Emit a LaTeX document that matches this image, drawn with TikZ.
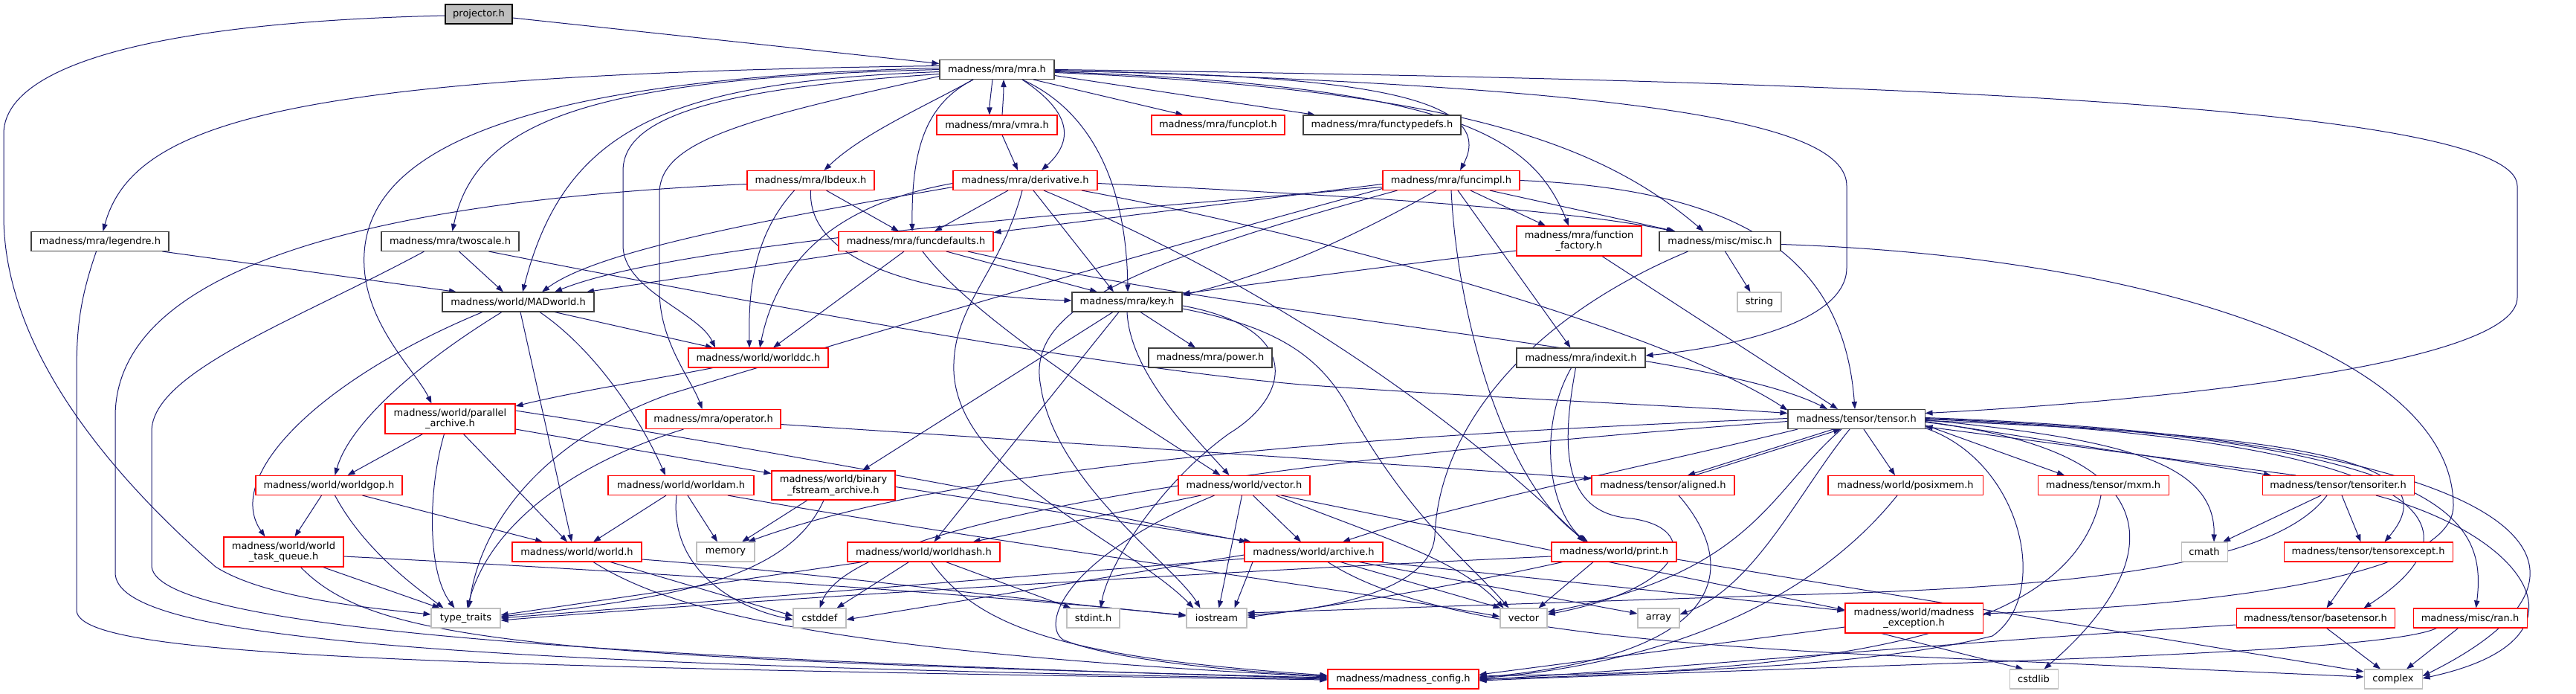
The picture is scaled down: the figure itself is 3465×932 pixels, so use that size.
\documentclass[tikz,border=0pt]{standalone}
\usepackage{fontspec}
\setmainfont{DejaVu Sans}
\usetikzlibrary{arrows.meta,calc}
\pgfdeclarelayer{bg}
\pgfsetlayers{bg,main}
\definecolor{edgec}{HTML}{191970}
\definecolor{redb}{HTML}{FF0000}
\definecolor{grayb}{HTML}{BFBFBF}
\definecolor{blackb}{HTML}{404040}
\tikzset{
  bw/.code={\pgfmathsetlengthmacro\tmpbw{#1*0.75pt}\tikzset{minimum width=\tmpbw}},
  bh/.code={\pgfmathsetlengthmacro\tmpbh{#1*0.75pt}\tikzset{minimum height=\tmpbh}},
  box/.style={line width=0.8pt, fill=white, inner sep=0pt, align=center,
    font=\fontsize{9.75}{10.75}\selectfont, bh=26},
  blk/.style={box, draw=blackb},
  rbox/.style={box, draw=redb},
  gbox/.style={box, draw=grayb},
  pbox/.style={box, draw=black, fill=grayb},
  e/.style={draw=edgec, line width=0.75pt, -{Triangle[length=7.5pt,width=5.4pt]}},
}
\begin{document}
\begin{tikzpicture}[x=0.75pt,y=-0.75pt]
\useasboundingbox (0,0) rectangle (3465,932);
\begin{pgfonlayer}{bg}
\fill[white] (0,0) rectangle (3465,932);
\end{pgfonlayer}
% ---------------- nodes ----------------
\node[pbox,bw=90] (projector) at (644,19) {projector.h};
\node[blk,bw=154] (mra) at (1341,93.5) {madness/mra/mra.h};
\node[rbox,bw=162] (vmra) at (1341,168) {madness/mra/vmra.h};
\node[rbox,bw=179] (funcplot) at (1638.5,168) {madness/mra/funcplot.h};
\node[blk,bw=212] (functypedefs) at (1859,168) {madness/mra/functypedefs.h};
\node[rbox,bw=171] (lbdeux) at (1090.5,242.5) {madness/mra/lbdeux.h};
\node[rbox,bw=194] (derivative) at (1379,242.5) {madness/mra/derivative.h};
\node[rbox,bw=184] (funcimpl) at (1952,242.5) {madness/mra/funcimpl.h};
\node[blk,bw=185] (legendre) at (134.5,324.5) {madness/mra/legendre.h};
\node[blk,bw=185] (twoscale) at (605.5,324.5) {madness/mra/twoscale.h};
\node[rbox,bw=208] (funcdefaults) at (1232,324.5) {madness/mra/funcdefaults.h};
\node[rbox,bw=168,bh=40] (ffactory) at (2124,324) {madness/mra/function\\\_factory.h};
\node[blk,bw=163] (misc) at (2313.5,324.5) {madness/misc/misc.h};
\node[blk,bw=204] (madworld) at (697,406) {madness/world/MADworld.h};
\node[blk,bw=148] (key) at (1516,406) {madness/mra/key.h};
\node[gbox,bw=59] (string) at (2366.5,406) {string};
\node[rbox,bw=188] (worlddc) at (1020,481) {madness/world/worlddc.h};
\node[blk,bw=166] (power) at (1628,481) {madness/mra/power.h};
\node[blk,bw=173] (indexit) at (2126.5,481) {madness/mra/indexit.h};
\node[rbox,bw=175,bh=40] (parchive) at (605.5,563) {madness/world/parallel\\\_archive.h};
\node[rbox,bw=181] (operator) at (959.5,563.5) {madness/mra/operator.h};
\node[blk,bw=184] (tensor) at (2497,563.5) {madness/tensor/tensor.h};
\node[rbox,bw=197] (worldgop) at (442.5,652.5) {madness/world/worldgop.h};
\node[rbox,bw=196] (worldam) at (916,652.5) {madness/world/worldam.h};
\node[rbox,bw=166,bh=39] (binfs) at (1121,652.5) {madness/world/binary\\\_fstream\_archive.h};
\node[rbox,bw=177] (wvector) at (1673.5,652.5) {madness/world/vector.h};
\node[rbox,bw=192] (aligned) at (2237,652.5) {madness/tensor/aligned.h};
\node[rbox,bw=208] (posixmem) at (2563,652.5) {madness/world/posixmem.h};
\node[rbox,bw=176] (mxm) at (2829,652.5) {madness/tensor/mxm.h};
\node[rbox,bw=204] (tensoriter) at (3145,652.5) {madness/tensor/tensoriter.h};
\node[rbox,bw=161,bh=40] (wtq) at (381.5,742) {madness/world/world\\\_task\_queue.h};
\node[rbox,bw=174] (world) at (776,742) {madness/world/world.h};
\node[gbox,bw=78] (memory) at (976,742) {memory};
\node[rbox,bw=205] (worldhash) at (1242.5,742) {madness/world/worldhash.h};
\node[rbox,bw=186] (archive) at (1767,742) {madness/world/archive.h};
\node[rbox,bw=168] (print) at (2171,742) {madness/world/print.h};
\node[gbox,bw=62] (cmath) at (2965,742) {cmath};
\node[rbox,bw=227] (tensorexcept) at (3185.5,742) {madness/tensor/tensorexcept.h};
\node[gbox,bw=93] (typetraits) at (626.5,831) {type\_traits};
\node[gbox,bw=71] (cstddef) at (1102.5,831) {cstddef};
\node[gbox,bw=71] (stdint) at (1470.5,831) {stdint.h};
\node[gbox,bw=81] (iostream) at (1636.5,831) {iostream};
\node[gbox,bw=63] (vector) at (2049.5,831) {vector};
\node[gbox,bw=56] (array) at (2231,831) {array};
\node[rbox,bw=185,bh=40] (mexception) at (2574.5,831) {madness/world/madness\\\_exception.h};
\node[rbox,bw=213] (basetensor) at (3114.5,831) {madness/tensor/basetensor.h};
\node[rbox,bw=153] (ran) at (3322.5,831) {madness/misc/ran.h};
\node[rbox,bw=203] (mconfig) at (1887.5,913) {madness/madness\_config.h};
\node[gbox,bw=65] (cstdlib) at (2735.5,913) {cstdlib};
\node[gbox,bw=78] (complex) at (3219,913) {complex};
% ---------------- edges ----------------
\begin{pgfonlayer}{bg}
% projector
\draw[e] ($(projector.east)+(0,5)$) -- ($(mra.west)+(0,-8)$);
\draw[e] ($(projector.west)+(0,2)$) .. controls (200,30) and (5,90) .. (5,180) -- (5,290) .. controls (5,470) and (150,640) .. (290,762) .. controls (350,800) and (470,815) .. ($(typetraits.west)+(0,-5)$);
% mra
\draw[e] ($(mra.south)+(-6,0)$) .. controls (1333,125) and (1331,140) .. ($(vmra.north)+(-10,0)$);
\draw[e] ($(vmra.north)+(7,0)$) .. controls (1349,140) and (1350,125) .. ($(mra.south)+(9,0)$);
\draw[e] ($(mra.south)+(49,0)$) -- ($(funcplot.north)+(-47,0)$);
\draw[e] ($(mra.east)+(0,8)$) -- ($(functypedefs.north)+(-90,0)$);
\draw[e] ($(mra.south)+(-32,0)$) .. controls (1240,145) and (1160,180) .. ($(lbdeux.north)+(18,0)$);
\draw[e] ($(mra.south)+(34,0)$) .. controls (1425,140) and (1455,180) .. ($(derivative.north)+(22,0)$);
\draw[e] ($(vmra.south)+(7,0)$) -- ($(derivative.north)+(-10,0)$);
\draw[e] ($(mra.south)+(-32,0)$) .. controls (1245,140) and (1226,200) .. ($(funcdefaults.north)+(-5,0)$);
\draw[e] ($(mra.south)+(34,0)$) .. controls (1470,150) and (1515,250) .. ($(key.north)+(1,0)$);
\draw[e] ($(mra.east)+(0,2)$) .. controls (1800,100) and (2020,125) .. ($(funcimpl.north)+(12,0)$);
\draw[e] ($(mra.east)+(0,3)$) .. controls (1950,115) and (2060,180) .. ($(ffactory.north)+(-14,0)$);
\draw[e] ($(mra.east)+(0,4)$) .. controls (1950,120) and (2150,190) .. ($(misc.north)+(-22,0)$);
\draw[e] (mra.east) .. controls (2500,108) and (3386,140) .. (3386,250) -- (3386,400) .. controls (3386,500) and (2800,545) .. ($(tensor.east)+(0,-8)$);
\draw[e] ($(mra.east)+(0,1)$) .. controls (2250,118) and (2484,170) .. (2484,250) -- (2484,360) .. controls (2484,440) and (2300,470) .. ($(indexit.east)+(0,-3)$);
\draw[e] ($(mra.west)+(0,-5)$) .. controls (400,100) and (180,160) .. ($(legendre.north)+(4,0)$);
\draw[e] ($(mra.west)+(0,-2)$) .. controls (700,105) and (480,200) .. (490,360) .. controls (495,440) and (560,500) .. ($(parchive.north)+(-25,0)$);
\draw[e] (mra.west) .. controls (800,105) and (640,160) .. ($(twoscale.north)+(3,0)$);
\draw[e] ($(mra.west)+(0,3)$) .. controls (900,110) and (760,170) .. ($(madworld.north)+(6,0)$);
\draw[e] ($(mra.west)+(0,6)$) .. controls (950,120) and (838,160) .. (838,230) -- (838,330) .. controls (838,390) and (940,420) .. ($(worlddc.north)+(-58,0)$);
\draw[e] ($(mra.west)+(0,9)$) .. controls (1000,160) and (887,190) .. (887,260) -- (887,390) .. controls (887,460) and (930,510) .. ($(operator.north)+(-15,0)$);
% legendre, twoscale
\draw[e] ($(legendre.south)+(84,0)$) -- ($(madworld.north)+(-83,0)$);
\draw[e] ($(legendre.south)+(-5,0)$) .. controls (108,400) and (103,440) .. (103,500) -- (103,820) .. controls (103,880) and (500,895) .. ($(mconfig.west)+(0,1)$);
\draw[e] ($(twoscale.south)+(12,0)$) -- ($(madworld.north)+(-20,0)$);
\draw[e] ($(twoscale.south)+(52,0)$) .. controls (1100,425) and (1500,495) .. (1750,517) .. controls (2000,535) and (2250,545) .. ($(tensor.west)+(0,-8)$);
\draw[e] ($(twoscale.south)+(-35,0)$) .. controls (400,430) and (204,500) .. (204,580) -- (204,760) .. controls (204,830) and (600,880) .. ($(mconfig.west)+(0,-1)$);
% lbdeux
\draw[e] ($(lbdeux.west)+(0,5)$) .. controls (500,270) and (155,360) .. (155,560) -- (155,770) .. controls (155,860) and (600,892) .. (mconfig.west);
\draw[e] ($(lbdeux.south)+(21,0)$) -- ($(funcdefaults.north)+(-23,0)$);
\draw[e] ($(lbdeux.south)+(-22,0)$) .. controls (1010,320) and (1007,400) .. ($(worlddc.north)+(-12,0)$);
\draw[e] (lbdeux.south) .. controls (1085,370) and (1300,400) .. ($(key.west)+(0,-2)$);
% derivative
\draw[e] ($(derivative.south)+(-23,0)$) -- ($(funcdefaults.north)+(25,0)$);
\draw[e] ($(derivative.south)+(11,0)$) -- ($(key.north)+(-18,0)$);
\draw[e] ($(derivative.west)+(0,4)$) .. controls (1150,270) and (1050,330) .. ($(worlddc.north)+(2,0)$);
\draw[e] ($(derivative.west)+(0,9)$) .. controls (1000,300) and (800,340) .. ($(madworld.north)+(32,0)$);
\draw[e] ($(derivative.east)+(0,4)$) .. controls (1800,262) and (2100,280) .. ($(misc.north)+(-62,0)$);
\draw[e] ($(derivative.south)+(76,0)$) .. controls (1800,320) and (2250,450) .. ($(tensor.west)+(0,-12)$);
\draw[e] ($(derivative.south)+(-4,0)$) .. controls (1345,370) and (1280,410) .. (1283,500) .. controls (1290,640) and (1520,730) .. ($(iostream.north)+(-31,0)$);
\draw[e] ($(derivative.south)+(25,0)$) .. controls (1750,400) and (2000,600) .. ($(print.north)+(-40,0)$);
% funcdefaults
\draw[e] ($(funcdefaults.south)+(-78,0)$) -- ($(madworld.north)+(92,0)$);
\draw[e] ($(funcdefaults.south)+(-16,0)$) -- ($(worlddc.north)+(20,0)$);
\draw[e] ($(funcdefaults.south)+(9,0)$) .. controls (1310,430) and (1520,560) .. ($(wvector.north)+(-32,0)$);
\draw[e] ($(funcdefaults.south)+(41,0)$) -- ($(key.north)+(-40,0)$);
\draw[e] ($(funcdefaults.south)+(70,0)$) .. controls (1750,440) and (2300,470) .. ($(tensor.north)+(-39,0)$);
% funcimpl
\draw[e] ($(funcimpl.west)+(0,5)$) -- ($(funcdefaults.east)+(0,-12)$);
\draw[e] ($(funcimpl.west)+(0,9)$) .. controls (1400,290) and (900,330) .. ($(madworld.north)+(49,0)$);
\draw[e] ($(funcimpl.west)+(0,11)$) .. controls (1500,350) and (1100,470) .. (900,530) .. controls (760,580) and (650,680) .. ($(typetraits.north)+(4,0)$);
\draw[e] ($(funcimpl.south west)+(20,0)$) .. controls (1500,360) and (1380,420) .. (1400,520) .. controls (1420,650) and (1580,760) .. ($(iostream.north)+(-22,0)$);
\draw[e] ($(funcimpl.south)+(-20,0)$) .. controls (1800,330) and (1700,370) .. ($(key.east)+(0,-9)$);
\draw[e] ($(funcimpl.south)+(26,0)$) -- ($(ffactory.north)+(-45,0)$);
\draw[e] ($(funcimpl.south)+(52,0)$) -- ($(misc.north)+(-60,0)$);
\draw[e] ($(funcimpl.south)+(9,0)$) -- ($(indexit.north)+(-14,0)$);
\draw[e] (funcimpl.east) .. controls (2350,255) and (2480,350) .. ($(tensor.north)+(-2,0)$);
\draw[e] (funcimpl.south) .. controls (1960,420) and (2020,650) .. ($(print.north)+(-35,0)$);
% function_factory, misc
\draw[e] ($(ffactory.west)+(0,13)$) .. controls (1850,360) and (1700,380) .. ($(key.east)+(0,-11)$);
\draw[e] ($(ffactory.south)+(31,0)$) -- ($(tensor.north)+(-25,0)$);
\draw[e] ($(misc.south)+(7,0)$) -- ($(string.north)+(-12,0)$);
\draw[e] ($(misc.east)+(0,4)$) .. controls (2900,345) and (3300,480) .. (3300,680) .. controls (3300,800) and (2800,820) .. ($(mexception.east)+(0,-6)$);
\draw[e] ($(misc.south)+(-43,0)$) .. controls (2050,430) and (1935,580) .. (1930,720) .. controls (1925,800) and (1760,822) .. ($(iostream.east)+(0,-4)$);
% key
\draw[e] ($(key.south)+(18,0)$) -- ($(power.north)+(-20,0)$);
\draw[e] ($(key.south)+(-19,0)$) -- ($(binfs.north)+(39,0)$);
\draw[e] ($(key.south)+(-11,0)$) -- ($(worldhash.north)+(14,0)$);
\draw[e] (key.south) .. controls (1520,500) and (1600,580) .. ($(wvector.north)+(-20,0)$);
\draw[e] ($(key.east)+(0,5)$) .. controls (1750,440) and (1740,530) .. (1653,583) .. controls (1560,650) and (1490,760) .. ($(stdint.north)+(10,0)$);
\draw[e] ($(key.east)+(0,9)$) .. controls (1720,440) and (1780,480) .. (1820,560) .. controls (1900,700) and (1980,760) .. ($(vector.north)+(-20,0)$);
% worlddc, operator
\draw[e] ($(worlddc.south)+(-61,0)$) .. controls (880,510) and (780,525) .. ($(parchive.east)+(0,-17)$);
\draw[e] ($(operator.south)+(-40,0)$) .. controls (780,620) and (660,700) .. ($(typetraits.north)+(2,0)$);
\draw[e] ($(operator.east)+(0,7)$) .. controls (1500,600) and (1900,625) .. ($(aligned.west)+(0,-9)$);
% parallel_archive
\draw[e] ($(parchive.south)+(-37,0)$) -- ($(worldgop.north)+(25,0)$);
\draw[e] ($(parchive.south)+(-8,0)$) .. controls (575,660) and (575,770) .. ($(typetraits.north)+(-15,0)$);
\draw[e] ($(parchive.south)+(18,0)$) -- ($(world.north)+(-13,0)$);
\draw[e] ($(parchive.east)+(0,-11)$) .. controls (1100,615) and (1450,685) .. ($(archive.north)+(-90,0)$);
\draw[e] ($(parchive.east)+(0,14)$) -- ($(binfs.west)+(0,-16)$);
% MADworld
\draw[e] ($(madworld.south)+(-48,0)$) .. controls (430,510) and (300,640) .. ($(wtq.north)+(-25,0)$);
\draw[e] ($(madworld.south)+(-22,0)$) .. controls (560,490) and (470,570) .. ($(worldgop.north)+(8,0)$);
\draw[e] ($(madworld.south)+(3,0)$) -- ($(world.north)+(-7,0)$);
\draw[e] ($(madworld.south)+(29,0)$) .. controls (800,470) and (860,560) .. ($(worldam.north)+(-21,0)$);
\draw[e] ($(madworld.south)+(49,0)$) -- ($(worlddc.north)+(-61,0)$);
% worldgop, world_task_queue, world
\draw[e] ($(worldgop.south)+(-10,0)$) -- ($(wtq.north)+(15,0)$);
\draw[e] ($(worldgop.south)+(8,0)$) .. controls (490,740) and (560,790) .. ($(typetraits.north)+(-30,0)$);
\draw[e] ($(worldgop.south)+(45,0)$) -- ($(world.north)+(-46,0)$);
\draw[e] ($(wtq.south)+(53,0)$) -- ($(typetraits.north)+(-35,0)$);
\draw[e] ($(wtq.south)+(23,0)$) .. controls (500,860) and (700,885) .. ($(mconfig.west)+(0,-2)$);
\draw[e] ($(wtq.east)+(0,6)$) .. controls (900,770) and (1400,805) .. ($(iostream.west)+(0,-3)$);
\draw[e] ($(world.east)+(0,10)$) .. controls (1100,770) and (1400,810) .. ($(iostream.west)+(0,-4)$);
\draw[e] ($(world.south)+(45,0)$) -- ($(cstddef.west)+(0,-3)$);
\draw[e] ($(world.south)+(22,0)$) .. controls (900,820) and (1100,875) .. ($(mconfig.west)+(0,-3)$);
% worldam, binary
\draw[e] ($(worldam.south)+(-20,0)$) -- ($(world.north)+(22,0)$);
\draw[e] ($(worldam.south)+(9,0)$) -- ($(memory.north)+(-11,0)$);
\draw[e] ($(worldam.south)+(-6,0)$) .. controls (900,760) and (980,815) .. ($(cstddef.west)+(0,2)$);
\draw[e] ($(worldam.south)+(63,0)$) .. controls (1400,740) and (1800,790) .. ($(vector.west)+(0,-2)$);
\draw[e] ($(binfs.south)+(-35,0)$) -- ($(memory.north)+(22,0)$);
\draw[e] ($(binfs.south)+(-13,0)$) .. controls (1060,780) and (900,805) .. ($(typetraits.east)+(0,-2)$);
\draw[e] ($(binfs.east)+(0,2)$) -- ($(archive.north)+(-84,0)$);
% world/vector.h
\draw[e] ($(wvector.south)+(-58,0)$) -- ($(worldhash.north)+(66,0)$);
\draw[e] ($(wvector.south)+(-3,0)$) -- ($(iostream.north)+(3,0)$);
\draw[e] ($(wvector.south)+(12,0)$) -- ($(archive.north)+(-17,0)$);
\draw[e] ($(wvector.south)+(43,0)$) .. controls (1850,720) and (1960,750) .. ($(vector.north)+(-27,0)$);
\draw[e] ($(wvector.south)+(50,0)$) -- ($(mexception.west)+(0,-11)$);
\draw[e] ($(wvector.south)+(-40,0)$) .. controls (1430,750) and (1400,840) .. (1430,860) .. controls (1500,890) and (1700,905) .. ($(mconfig.west)+(0,-4)$);
% worldhash
\draw[e] ($(worldhash.south)+(-20,0)$) -- ($(cstddef.north)+(23,0)$);
\draw[e] ($(worldhash.south)+(30,0)$) -- ($(stdint.north)+(-30,0)$);
\draw[e] ($(worldhash.south)+(10,0)$) .. controls (1320,850) and (1450,885) .. ($(mconfig.west)+(0,-5)$);
\draw[e] ($(worldhash.south)+(-82,0)$) -- ($(typetraits.east)+(0,-4)$);
% archive
\draw[e] ($(archive.west)+(0,4)$) -- ($(cstddef.east)+(0,2)$);
\draw[e] ($(archive.west)+(0,9)$) -- (typetraits.east);
\draw[e] ($(archive.south)+(-82,0)$) -- ($(iostream.north)+(24,0)$);
\draw[e] ($(archive.south)+(36,0)$) -- ($(vector.north)+(-31,0)$);
\draw[e] ($(archive.south)+(61,0)$) -- ($(array.west)+(0,-6)$);
\draw[e] ($(archive.south)+(88,0)$) -- ($(mexception.west)+(0,-10)$);
\draw[e] ($(archive.south)+(19,0)$) .. controls (1900,830) and (2150,865) .. (2600,884) -- ($(complex.west)+(0,-3)$);
% print, indexit
\draw[e] ($(print.south)+(-28,0)$) -- ($(vector.north)+(20,0)$);
\draw[e] ($(print.east)+(0,10)$) -- ($(complex.west)+(0,-10)$);
\draw[e] ($(print.south)+(-69,0)$) .. controls (1900,800) and (1750,820) .. ($(iostream.east)+(0,-1)$);
\draw[e] ($(print.west)+(0,6)$) .. controls (1500,775) and (900,815) .. ($(typetraits.east)+(0,3)$);
\draw[e] ($(indexit.south)+(-13,0)$) .. controls (2070,570) and (2080,680) .. ($(print.north)+(-38,0)$);
\draw[e] ($(indexit.south)+(-7,0)$) .. controls (2100,600) and (2100,690) .. (2194,697) .. controls (2290,710) and (2270,790) .. ($(vector.east)+(0,-5)$);
% tensor
\draw[e] ($(tensor.south)+(-31,0)$) -- ($(aligned.north)+(33,0)$);
\draw[e] ($(aligned.north)+(43,0)$) -- ($(tensor.south)+(-21,0)$);
\draw[e] ($(tensor.south)+(10,0)$) -- ($(posixmem.north)+(-14,0)$);
\draw[e] ($(tensor.east)+(0,8)$) -- ($(mxm.north)+(-52,0)$);
\draw[e] ($(tensor.east)+(0,3)$) -- ($(tensoriter.north)+(-90,0)$);
\draw[e] ($(tensoriter.north)+(-57,0)$) -- ($(tensor.east)+(0,10)$);
\draw[e] ($(tensor.east)+(0,1)$) .. controls (2850,590) and (2980,620) .. ($(cmath.north)+(13,0)$);
\draw[e] ($(tensor.east)+(0,2)$) .. controls (3100,585) and (3300,620) .. ($(tensorexcept.north)+(22,0)$);
\draw[e] (tensor.east) .. controls (3250,590) and (3360,700) .. ($(basetensor.north)+(65,0)$);
\draw[e] ($(tensor.east)+(0,-1)$) .. controls (3300,590) and (3345,700) .. ($(ran.north)+(8,0)$);
\draw[e] ($(tensor.east)+(0,-2)$) .. controls (3400,590) and (3560,760) .. ($(complex.east)+(0,-4)$);
\draw[e] ($(tensor.east)+(0,4)$) .. controls (2950,610) and (2900,770) .. ($(cstdlib.north)+(14,0)$);
\draw[e] ($(tensor.east)+(0,12)$) .. controls (2720,620) and (2760,800) .. (2680,855) .. controls (2500,900) and (2200,905) .. ($(mconfig.east)+(0,-4)$);
\draw[e] ($(tensor.south)+(-9,0)$) .. controls (2420,660) and (2360,790) .. ($(array.east)+(0,-5)$);
\draw[e] ($(tensor.south)+(-20,0)$) .. controls (2380,660) and (2360,770) .. ($(vector.east)+(0,-8)$);
\draw[e] ($(tensor.south)+(-79,0)$) .. controls (2200,630) and (1950,680) .. ($(archive.north)+(39,0)$);
\draw[e] ($(tensor.west)+(0,-1)$) .. controls (1700,590) and (1250,640) .. ($(memory.north)+(30,0)$);
\draw[e] ($(tensor.west)+(0,3)$) .. controls (1800,610) and (1150,690) .. (cstddef.north);
% tensor family
\draw[e] ($(aligned.south)+(21,0)$) .. controls (2340,760) and (2330,880) .. ($(mconfig.east)+(0,-2)$);
\draw[e] ($(posixmem.south)+(-11,0)$) .. controls (2420,830) and (2200,895) .. ($(mconfig.east)+(0,-1)$);
\draw[e] ($(mxm.south)+(-3,0)$) .. controls (2790,850) and (2500,900) .. (mconfig.east);
\draw[e] ($(tensoriter.south)+(-23,0)$) -- ($(cmath.north)+(25,0)$);
\draw[e] ($(tensoriter.south)+(5,0)$) -- ($(tensorexcept.north)+(-10,0)$);
\draw[e] ($(tensoriter.south)+(51,0)$) .. controls (3400,720) and (3500,860) .. ($(complex.east)+(0,-1)$);
\draw[e] ($(tensoriter.south)+(-15,0)$) .. controls (3060,760) and (2800,790) .. (2400,800) -- ($(iostream.east)+(0,-7)$);
\draw[e] ($(tensorexcept.south)+(-12,0)$) -- ($(basetensor.north)+(15,0)$);
\draw[e] ($(basetensor.south)+(15,0)$) -- ($(complex.north)+(-17,0)$);
\draw[e] ($(basetensor.west)+(0,9)$) .. controls (2600,865) and (2300,895) .. ($(mconfig.east)+(0,1)$);
\draw[e] ($(ran.south)+(-16,0)$) -- ($(complex.north)+(18,0)$);
\draw[e] ($(ran.south)+(-45,0)$) .. controls (3200,880) and (2600,890) .. ($(mconfig.east)+(0,2)$);
\draw[e] ($(mexception.south)+(-44,0)$) -- ($(cstdlib.north)+(-14,0)$);
\draw[e] ($(mexception.west)+(0,12)$) -- ($(mconfig.east)+(0,-6)$);
\end{pgfonlayer}
\end{tikzpicture}
\end{document}
